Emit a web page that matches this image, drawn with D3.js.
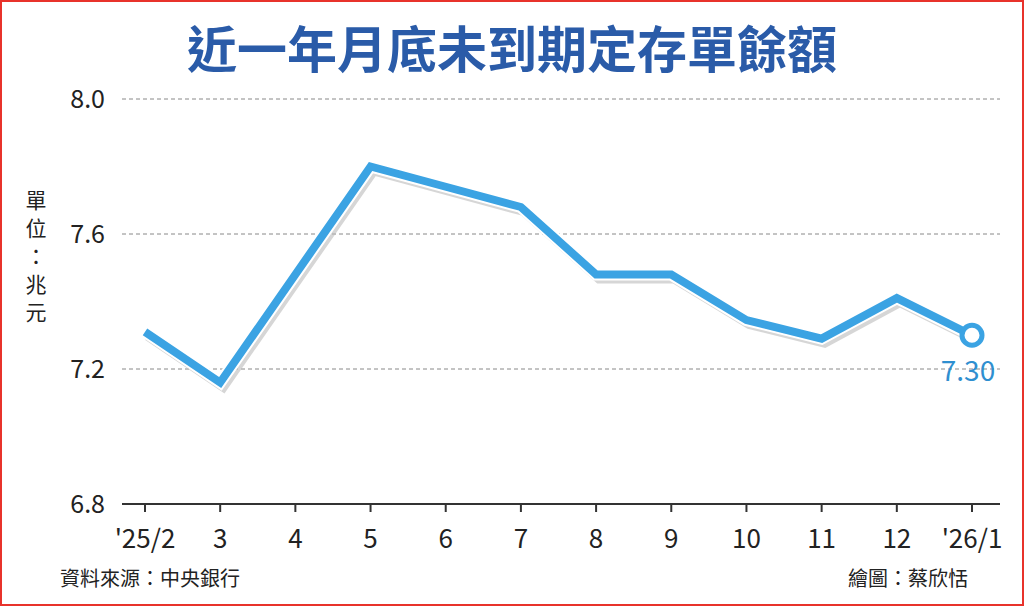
<!DOCTYPE html>
<html><head><meta charset="utf-8">
<script src="https://cdn.jsdelivr.net/npm/d3@7"></script>
<style>body{margin:0;background:#fff}svg{display:block}</style>
</head><body><svg id="c" width="1024" height="606"></svg>
<script>
const categories = ["'25/2","3","4","5","6","7","8","9","10","11","12","'26/1"];
const values = [7.31,7.16,7.48,7.80,7.74,7.68,7.48,7.48,7.345,7.29,7.41,7.30];
const yTicks = [6.8,7.2,7.6,8.0];
const svg = d3.select("#c");
const font = "'Noto Sans CJK TC','Noto Sans',sans-serif";
svg.append("rect").attr("x",1).attr("y",1).attr("width",1022).attr("height",604).attr("fill","#fff").attr("stroke","#e8322b").attr("stroke-width",2);
svg.append("text").attr("x",512).attr("y",68).attr("text-anchor","middle").attr("font-family",font).attr("font-weight",700).attr("font-size",50).attr("fill","#2a5ba8").text("近一年月底未到期定存單餘額");
const x = d3.scalePoint().domain(categories).range([145,972]);
const y = d3.scaleLinear().domain([6.8,8.0]).range([504,99]);
const g = svg.append("g");
yTicks.forEach(t=>{
  if(t>6.8) g.append("line").attr("x1",122).attr("x2",1000).attr("y1",y(t)).attr("y2",y(t)).attr("stroke","#888").attr("stroke-dasharray","4,3");
  g.append("text").attr("x",105).attr("y",y(t)+9).attr("text-anchor","end").attr("font-family",font).attr("font-size",25).attr("fill","#222").text(t.toFixed(1));
});
g.append("line").attr("x1",122).attr("x2",1000).attr("y1",504).attr("y2",504).attr("stroke","#333").attr("stroke-width",2);
categories.forEach(c=>{
  g.append("line").attr("x1",x(c)).attr("x2",x(c)).attr("y1",504).attr("y2",512).attr("stroke","#333").attr("stroke-width",2);
  g.append("text").attr("x",x(c)).attr("y",548).attr("text-anchor","middle").attr("font-family",font).attr("font-size",26).attr("fill","#222").text(c);
});
["單","位","：","兆","元"].forEach((ch,i)=>{
  svg.append("text").attr("x",36).attr("y",208+i*28).attr("text-anchor","middle").attr("font-family",font).attr("font-size",21).attr("fill","#222").text(ch);
});
const line = d3.line().x((d,i)=>x(categories[i])).y(d=>y(d));
svg.append("path").datum(values).attr("d",line).attr("transform","translate(3,4)").attr("fill","none").attr("stroke","#bbb").attr("stroke-width",10).attr("opacity",0.6);
svg.append("path").datum(values).attr("d",line).attr("fill","none").attr("stroke","#fff").attr("stroke-width",12);
svg.append("path").datum(values).attr("d",line).attr("fill","none").attr("stroke","#3ba3e3").attr("stroke-width",8);
const last = values.length-1;
svg.append("circle").attr("cx",x(categories[last])).attr("cy",y(values[last])).attr("r",10).attr("fill","#fff").attr("stroke","#3ba3e3").attr("stroke-width",5);
svg.append("text").attr("x",x(categories[last])-4).attr("y",y(values[last])+46).attr("text-anchor","middle").attr("font-family",font).attr("font-size",28).attr("fill","#2f8fd0").text(values[last].toFixed(2));
svg.append("text").attr("x",60).attr("y",586).attr("font-family",font).attr("font-size",20).attr("fill","#222").text("資料來源：中央銀行");
svg.append("text").attr("x",968).attr("y",586).attr("text-anchor","end").attr("font-family",font).attr("font-size",20).attr("fill","#222").text("繪圖：蔡欣恬");
</script></body></html>
